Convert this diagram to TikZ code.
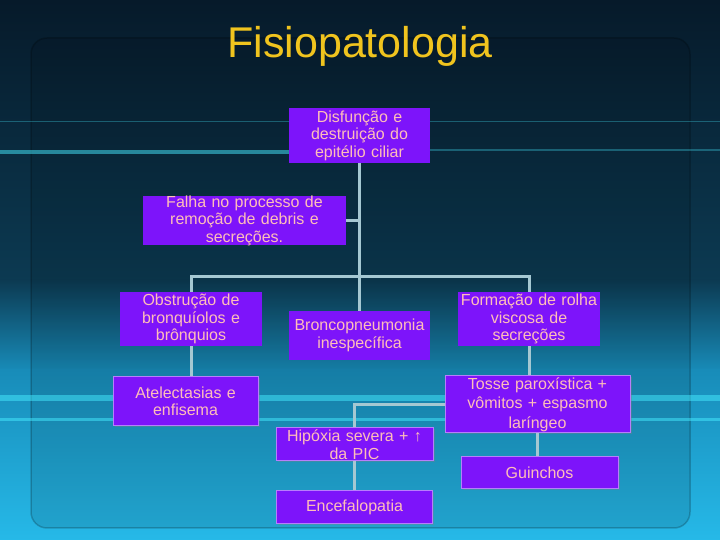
\documentclass[tikz,border=0pt]{standalone}
\usepackage{fontspec}
\setmainfont{Liberation Sans}
\usetikzlibrary{positioning,shadows}
\definecolor{boxclr}{RGB}{125,20,250}
\definecolor{txtclr}{RGB}{255,190,185}
\definecolor{lineclr}{RGB}{165,200,210}
\definecolor{titleclr}{RGB}{240,196,30}
\definecolor{bgtop}{RGB}{6,26,42}
\definecolor{bgmid}{RGB}{12,58,82}
\definecolor{bglow}{RGB}{24,140,185}
\definecolor{bgbot}{RGB}{38,185,232}
\definecolor{streakclr}{RGB}{70,235,255}
\tikzset{ %
  ,every node/.style={font=\fontsize{16}{17.5}\selectfont}
  ,flat/.style={fill=boxclr, text=txtclr, inner sep=0, align=center}
  ,bevel/.style={flat, draw=boxclr!55!white, line width=1pt, drop shadow={opacity=0.35, shadow xshift=1.5pt, shadow yshift=-1.5pt}}
  ,link/.style={draw=lineclr, line width=3pt}
  ,streak/.style={streakclr, line width=#1, opacity=0.5}
}

\begin{document}
\begin{tikzpicture}[x=1pt, y=1pt]
  \useasboundingbox (0,0) rectangle (720,540);
  % background
  \shade[top color=bgtop, bottom color=bgmid] (0,540) rectangle (720,259);
  \shade[top color=bgmid, bottom color=bglow] (0,260) rectangle (720,169);
  \shade[top color=bglow, bottom color=bgbot] (0,170) rectangle (720,0);
  \draw[rounded corners=16pt, draw=black, draw opacity=0.2, fill=black, fill opacity=0.1, line width=1.5pt] (31,12) rectangle (690,502);
  \draw[streak=4pt] (0,388) -- (290,388);
  \draw[streak=2pt, opacity=0.3] (430,390) -- (720,390);
  \draw[streak=1pt, opacity=0.3] (0,418) -- (720,418);
  \draw[streak=6pt] (0,142) -- (720,142);
  \draw[streak=3pt] (0,120) -- (720,120);
  \node[text=titleclr, font=\fontsize{43}{48}\selectfont] (title) at (360,494) {Fisiopatologia};

  \draw
  node[flat, text width=141pt, minimum height=55pt] (dis) at (359.5,404.5) {Disfunção e\\destruição do\\epitélio ciliar}
  node[flat, text width=203pt, minimum height=49pt] (falha) at (244.5,319.5) {Falha no processo de\\remoção de debris e\\secreções.}
  node[flat, text width=142pt, minimum height=54pt] (obst) at (191,221) {Obstrução de\\bronquíolos e\\brônquios}
  node[flat, text width=141pt, minimum height=49pt] (bronco) at (359.5,204.5) {Broncopneumonia\\inespecífica}
  node[flat, text width=142pt, minimum height=54pt] (form) at (529,221) {Formação de rolha\\viscosa de\\secreções}
  node[bevel, text width=145pt, minimum height=49pt] (atel) at (185.5,138.5) {Atelectasias e\\enfisema}
  node[bevel, text width=185pt, minimum height=57pt, font=\fontsize{16}{19.5}\selectfont] (tosse) at (537.5,135.5) {Tosse paroxística +\\vômitos + espasmo\\laríngeo}
  node[bevel, text width=157pt, minimum height=32pt, below=23pt of tosse, xshift=2pt] (guin) {Guinchos}
  node[bevel, text width=157pt, minimum height=33pt] (hip) at (354.5,95.5) {Hipóxia severa + ↑\\da PIC}
  node[bevel, text width=156pt, minimum height=33pt, below=29pt of hip] (ence) {Encefalopatia};

  % connectors
  \coordinate (bar) at (359.5,263);
  \draw[link] (dis.south) -- (bar);
  \draw[link] (falha.east) -- (dis.south |- falha.east);
  \draw[link] (obst.north) |- (bar) -| (form.north);
  \draw[link] (bar) -- (bronco.north);
  \draw[link] (obst.south) -- (obst.south |- atel.north);
  \draw[link] (form.south) -- (form.south |- tosse.north);
  \draw[link] (tosse.south) -- (tosse.south |- guin.north);
  \draw[link] (hip.north) |- (tosse.west);
  \draw[link] (hip.south) -- (ence.north);
\end{tikzpicture}
\end{document}
